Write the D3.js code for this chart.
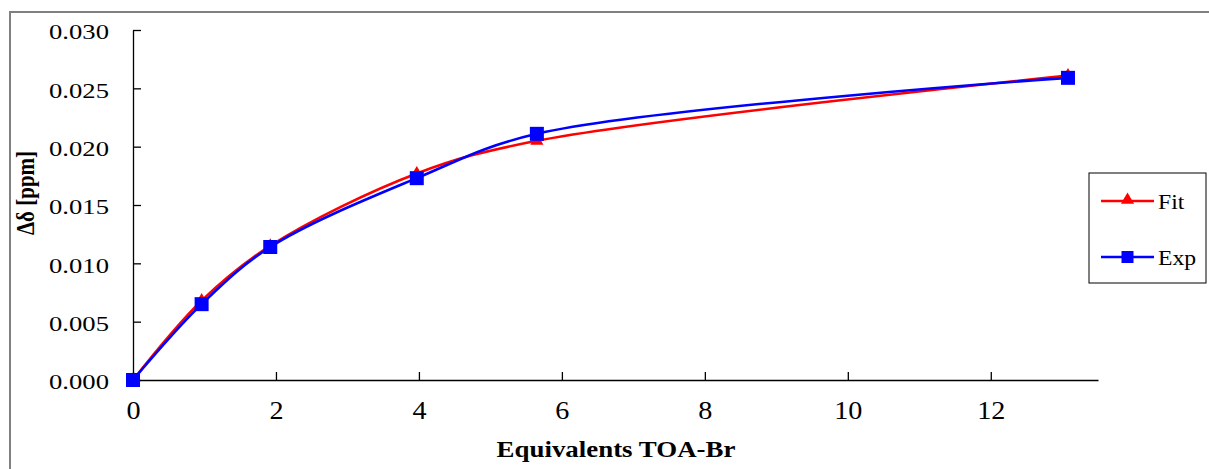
<!DOCTYPE html>
<html><head><meta charset="utf-8">
<script src="https://cdn.jsdelivr.net/npm/d3@7"></script>
<style>body{margin:0;background:#fff}svg{display:block}</style>
</head><body>
<svg id="c" width="1209" height="469"></svg>
<script>
const xEquiv = [0, 0.96, 1.92, 3.97, 5.65, 13.08];
const fitVals = [0, 0.0068, 0.0115, 0.0177, 0.0205, 0.0261];
const expVals = [0, 0.0065, 0.0114, 0.0173, 0.0211, 0.0259];
const xTicks = [0, 2, 4, 6, 8, 10, 12];
const yTicks = [0, 0.005, 0.010, 0.015, 0.020, 0.025, 0.030];
const seriesNames = ["Fit", "Exp"];

const svg = d3.select("#c");
const font = "'Liberation Serif','Times New Roman',serif";

svg.append("rect").attr("x",10).attr("y",12).attr("width",1230).attr("height",480)
  .attr("fill","none").attr("stroke","#808080").attr("stroke-width",2);

const x = d3.scaleLinear().domain([0, 13.5]).range([133, 1098]);
const y = d3.scaleLinear().domain([0, 0.030]).range([380, 30]);

const xAxis = svg.append("g").attr("transform","translate(0,380)")
  .call(d3.axisBottom(x).tickValues(xTicks).tickFormat(d3.format("d")).tickSizeInner(-8).tickSizeOuter(0).tickPadding(22));
const yAxis = svg.append("g").attr("transform","translate(133,0)")
  .call(d3.axisLeft(y).tickValues(yTicks).tickFormat(d3.format(".3f")).tickSizeInner(-8).tickSizeOuter(0).tickPadding(24));
[xAxis, yAxis].forEach(a=>{
  a.selectAll("path,line").attr("stroke","#000").attr("stroke-width",1.3);
  a.selectAll("text").attr("font-family",font).attr("fill","#000");
});
const sxY = 1.24, sxX = 1.15;
yAxis.selectAll(".tick text").attr("font-size",21.5).attr("dy","0.32em").attr("y",2)
  .attr("x", function(){ return +d3.select(this).attr("x")/sxY; })
  .attr("transform",`scale(${sxY},1)`);
xAxis.selectAll(".tick text").attr("font-size",24.5).attr("transform",`scale(${sxX},1)`);

svg.append("text").attr("transform","translate(616,457) scale(1.19,1)").attr("text-anchor","middle")
  .attr("font-family",font).attr("font-size",22.6).attr("font-weight","bold").text("Equivalents TOA-Br");
svg.append("text").attr("transform","translate(34,193) rotate(-90) scale(1,1.2)").attr("text-anchor","middle")
  .attr("font-family",font).attr("font-size",21).attr("font-weight","bold").text("Δδ [ppm]");

const line = d3.line().x(d=>x(d[0])).y(d=>y(d[1])).curve(d3.curveCatmullRom.alpha(0.5));
const fitPts = xEquiv.map((v,i)=>[v, fitVals[i]]);
const expPts = xEquiv.map((v,i)=>[v, expVals[i]]);

svg.append("path").attr("d", line(fitPts)).attr("fill","none").attr("stroke","#ff0000").attr("stroke-width",2.6);
const tri = d3.symbol().type(d3.symbolTriangle).size(75);
svg.selectAll(".tri").data(fitPts).join("path").attr("class","tri")
  .attr("transform",d=>`translate(${x(d[0])},${y(d[1])})`).attr("d",tri()).attr("fill","#ff0000");

svg.append("path").attr("d", line(expPts)).attr("fill","none").attr("stroke","#0000ff").attr("stroke-width",2.6);
svg.selectAll(".sq").data(expPts).join("rect").attr("class","sq")
  .attr("x",d=>x(d[0])-7).attr("y",d=>y(d[1])-7).attr("width",14).attr("height",14).attr("fill","#0000ff");

// legend
const lg = svg.append("g");
lg.append("rect").attr("x",1089).attr("y",173).attr("width",117).attr("height",110)
  .attr("fill","#fff").attr("stroke","#000").attr("stroke-width",1);
const legY = [201, 257];
const colors = ["#ff0000","#0000ff"];
seriesNames.forEach((n,i)=>{
  lg.append("line").attr("x1",1101).attr("x2",1154).attr("y1",legY[i]).attr("y2",legY[i])
    .attr("stroke",colors[i]).attr("stroke-width",2.6);
  if(i===0){
    lg.append("path").attr("transform",`translate(1127.5,${legY[i]-1})`).attr("d",tri()).attr("fill",colors[i]);
  } else {
    lg.append("rect").attr("x",1121.5).attr("y",legY[i]-6).attr("width",12).attr("height",12).attr("fill",colors[i]);
  }
  lg.append("text").attr("transform",`translate(1158,${legY[i]}) scale(1.1,1)`).attr("dy","0.35em")
    .attr("font-family",font).attr("font-size",21.5).text(n);
});
</script>
</body></html>
